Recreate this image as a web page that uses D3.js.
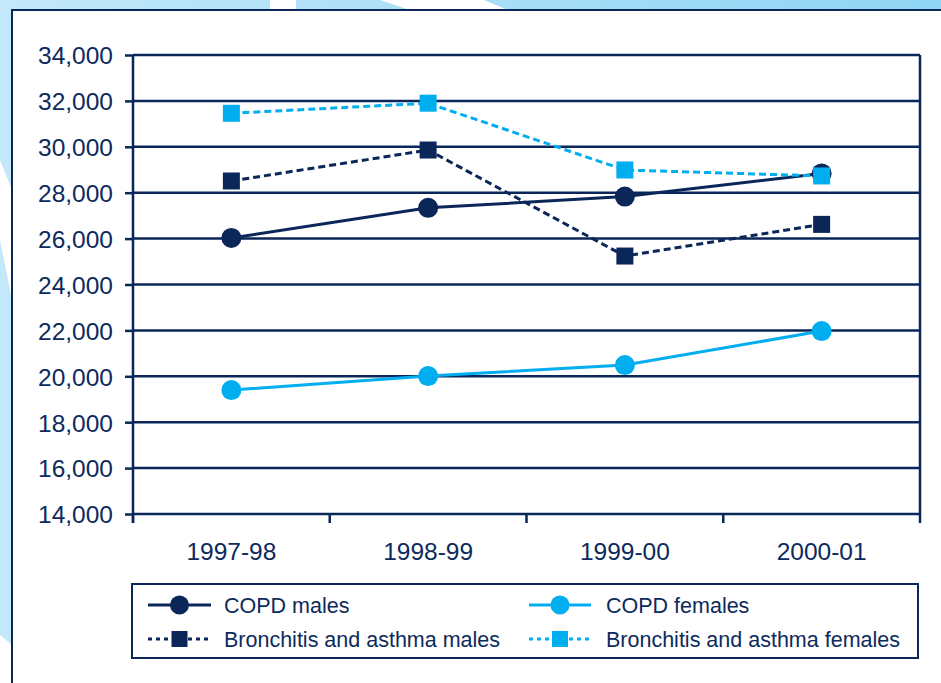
<!DOCTYPE html>
<html>
<head>
<meta charset="utf-8">
<script src="https://cdn.jsdelivr.net/npm/d3@7"></script>
<style>
html,body{margin:0;padding:0;background:#fff;}
svg{display:block;}
text{font-family:"Liberation Sans",Arial,sans-serif;fill:#0d2a5c;}
</style>
</head>
<body>
<svg id="chart" width="941" height="683"></svg>
<script>
// ---- data ----
const categories = ["1997-98", "1998-99", "1999-00", "2000-01"];
const copdMales = [26030, 27340, 27830, 28840];
const copdFemales = [19400, 20010, 20490, 21970];
const bronchMales = [28510, 29860, 25240, 26620];
const bronchFemales = [31460, 31900, 28990, 28730];
const seriesNames = ["COPD males", "COPD females", "Bronchitis and asthma males", "Bronchitis and asthma females"];
const yTicks = [14000, 16000, 18000, 20000, 22000, 24000, 26000, 28000, 30000, 32000, 34000];

const NAVY = "#0b2659";
const LIGHT = "#00aeef";
const series = [
  {name: seriesNames[0], values: copdMales, color: NAVY, dash: null, shape: "circle"},
  {name: seriesNames[1], values: copdFemales, color: LIGHT, dash: null, shape: "circle"},
  {name: seriesNames[2], values: bronchMales, color: NAVY, dash: "7,4", shape: "square"},
  {name: seriesNames[3], values: bronchFemales, color: LIGHT, dash: "7,4", shape: "square"}
];

const svg = d3.select("#chart");

// ---- background decoration ----
const defs = svg.append("defs");
const grad = defs.append("linearGradient").attr("id", "bg").attr("x1", "0").attr("x2", "1").attr("y1", "0").attr("y2", "0");
grad.append("stop").attr("offset", "0").attr("stop-color", "#c3e8f9");
grad.append("stop").attr("offset", "1").attr("stop-color", "#8fd5f4");
svg.append("rect").attr("width", 941).attr("height", 683).attr("fill", "url(#bg)");
// white decorative shapes
svg.append("polygon").attr("points", "270,0 296,0 296,10 270,10").attr("fill", "#ffffff");
svg.append("polygon").attr("points", "380,0 484,0 508,10 410,10").attr("fill", "#ffffff");
svg.append("polygon").attr("points", "0,160 12,190 12,300 0,240").attr("fill", "#ffffff");
svg.append("polygon").attr("points", "0,635 12,645 12,683 0,683").attr("fill", "#ffffff");

// white panel
svg.append("rect").attr("x", 12).attr("y", 10).attr("width", 960).attr("height", 700)
  .attr("fill", "#fff").attr("stroke", NAVY).attr("stroke-width", 2);

// ---- scales ----
const x = d3.scaleBand().domain(categories).range([133, 920]).padding(0);
const y = d3.scaleLinear().domain([14000, 34000]).range([514, 55]);
const cx = c => x(c) + x.bandwidth() / 2;

// gridlines
svg.append("g").selectAll("line").data(yTicks).join("line")
  .attr("x1", x.range()[0]).attr("x2", x.range()[1])
  .attr("y1", d => y(d)).attr("y2", d => y(d))
  .attr("stroke", NAVY).attr("stroke-width", 2.5);
// right border
svg.append("line").attr("x1", x.range()[1]).attr("x2", x.range()[1])
  .attr("y1", y(34000)).attr("y2", y(14000)).attr("stroke", NAVY).attr("stroke-width", 2.5);

// y axis
const yAxis = svg.append("g").attr("transform", `translate(${x.range()[0]},0)`)
  .call(d3.axisLeft(y).tickValues(yTicks).tickFormat(d3.format(",")).tickSize(8).tickSizeOuter(0).tickPadding(12));
yAxis.select(".domain").attr("stroke", NAVY).attr("stroke-width", 2.5).attr("d", `M0,${y(34000)}V${y(14000) + 9}`);
yAxis.selectAll(".tick line").attr("stroke", NAVY).attr("stroke-width", 2.5);
yAxis.selectAll(".tick text").style("font-size", "24.5px").attr("fill", "#0d2a5c").attr("dy", "0.36em");

// x axis: labels at band centres, ticks at band edges
const xEdges = categories.map(c => x(c)).concat([x.range()[1]]);
svg.append("g").selectAll("line").data(xEdges).join("line")
  .attr("x1", d => d).attr("x2", d => d)
  .attr("y1", y(14000)).attr("y2", y(14000) + 9)
  .attr("stroke", NAVY).attr("stroke-width", 2.5);
const xAxis = svg.append("g").attr("transform", `translate(0,${y(14000)})`)
  .call(d3.axisBottom(x).tickSize(0).tickPadding(29));
xAxis.select(".domain").remove();
xAxis.selectAll(".tick text").style("font-size", "24.5px").attr("fill", "#0d2a5c");

// ---- series ----
const line = d3.line().x((d, i) => cx(categories[i])).y(d => y(d));
series.forEach(s => {
  const g = svg.append("g");
  g.append("path").datum(s.values).attr("d", line)
    .attr("fill", "none").attr("stroke", s.color).attr("stroke-width", 3)
    .attr("stroke-dasharray", s.dash);
  if (s.shape === "circle") {
    g.selectAll("circle").data(s.values).join("circle")
      .attr("cx", (d, i) => cx(categories[i])).attr("cy", d => y(d)).attr("r", 10)
      .attr("fill", s.color);
  } else {
    g.selectAll("rect").data(s.values).join("rect")
      .attr("x", (d, i) => cx(categories[i]) - 8.5).attr("y", d => y(d) - 8.5)
      .attr("width", 17).attr("height", 17).attr("fill", s.color);
  }
});

// ---- legend ----
const leg = svg.append("g");
leg.append("rect").attr("x", 132).attr("y", 584).attr("width", 786).attr("height", 74)
  .attr("fill", "#fff").attr("stroke", NAVY).attr("stroke-width", 2);
const legPos = [
  {x0: 148, x1: 211, ty: 605, tx: 224},
  {x0: 529, x1: 591, ty: 605, tx: 606},
  {x0: 148, x1: 211, ty: 639, tx: 224},
  {x0: 529, x1: 591, ty: 639, tx: 606}
];
series.forEach((s, i) => {
  const p = legPos[i];
  const g = leg.append("g");
  g.append("line").attr("x1", p.x0).attr("x2", p.x1).attr("y1", p.ty).attr("y2", p.ty)
    .attr("stroke", s.color).attr("stroke-width", 3).attr("stroke-dasharray", s.dash ? "4,4" : null);
  const mx = (p.x0 + p.x1) / 2;
  if (s.shape === "circle") {
    g.append("circle").attr("cx", mx).attr("cy", p.ty).attr("r", 9.5).attr("fill", s.color);
  } else {
    g.append("rect").attr("x", mx - 8).attr("y", p.ty - 8).attr("width", 16).attr("height", 16).attr("fill", s.color);
  }
  g.append("text").attr("x", p.tx).attr("y", p.ty).attr("dy", "0.36em")
    .style("font-size", "21.5px").text(s.name);
});
</script>
</body>
</html>
